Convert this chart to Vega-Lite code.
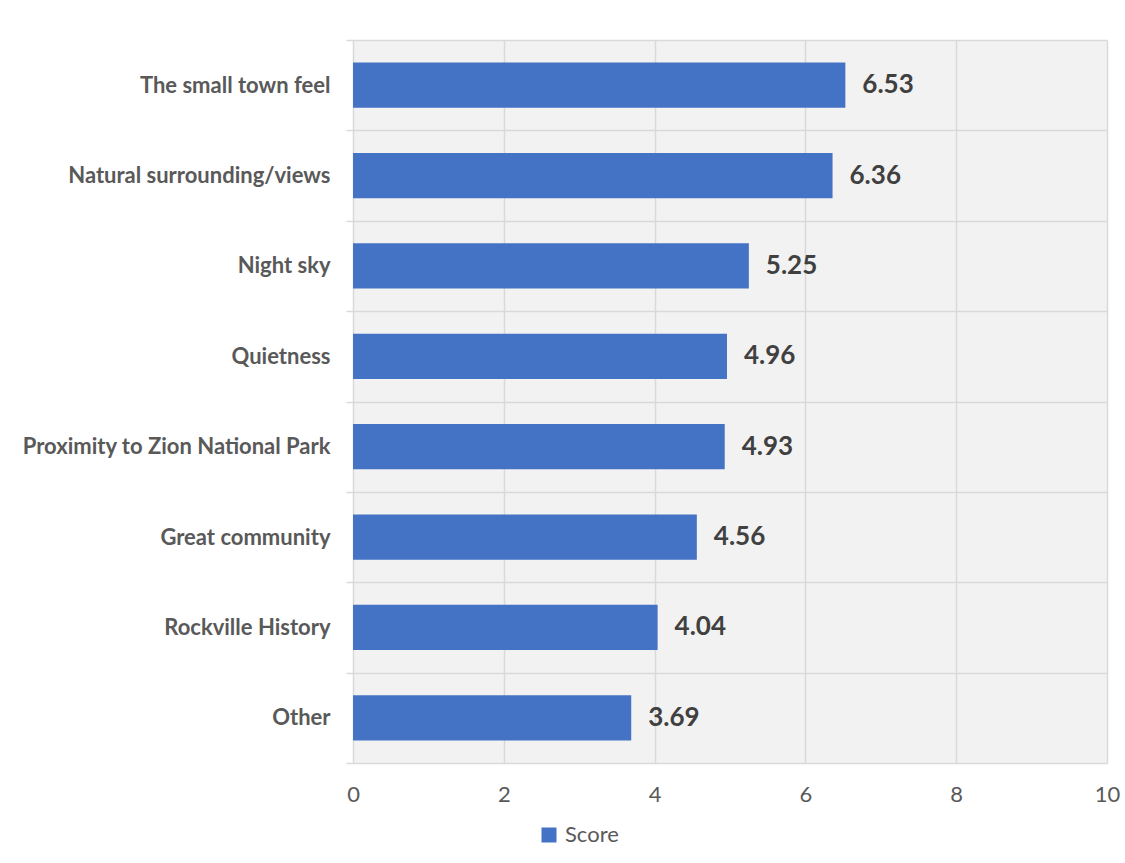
{
  "$schema": "https://vega.github.io/schema/vega-lite/v6.json",
  "width": 754,
  "height": 723,
  "autosize": {"type": "none"},
  "padding": {"left": 353, "top": 40, "right": 18, "bottom": 100},
  "background": "white",
  "config": {
    "font": "Lato",
    "view": {"stroke": null, "fill": "#f2f2f2"}
  },
  "data": {
    "values": [
      {"factor": "The small town feel", "score": 6.53},
      {"factor": "Natural surrounding/views", "score": 6.36},
      {"factor": "Night sky", "score": 5.25},
      {"factor": "Quietness", "score": 4.96},
      {"factor": "Proximity to Zion National Park", "score": 4.93},
      {"factor": "Great community", "score": 4.56},
      {"factor": "Rockville History", "score": 4.04},
      {"factor": "Other", "score": 3.69}
    ]
  },
  "encoding": {
    "y": {
      "field": "factor",
      "type": "nominal",
      "sort": null,
      "title": null,
      "scale": {"paddingInner": 0, "paddingOuter": 0},
      "axis": {
        "tickBand": "extent",
        "tickSize": 7,
        "tickColor": "#d9d9d9",
        "tickWidth": 1.5,
        "grid": true,
        "gridColor": "#d9d9d9",
        "gridWidth": 1.5,
        "domain": false,
        "labelFont": "Lato",
        "labelFontWeight": "bold",
        "labelFontSize": 22,
        "labelColor": "#595959",
        "labelPadding": 16,
        "labelLimit": 400
      }
    },
    "x": {
      "field": "score",
      "type": "quantitative",
      "title": null,
      "scale": {"domain": [0, 10], "nice": false},
      "axis": {
        "values": [0, 2, 4, 6, 8, 10],
        "grid": true,
        "gridColor": "#d9d9d9",
        "gridWidth": 1.5,
        "ticks": false,
        "domain": false,
        "labelFont": "Lato",
        "labelFontSize": 22,
        "labelColor": "#595959",
        "labelPadding": 21,
        "labelFlush": false
      }
    }
  },
  "layer": [
    {
      "mark": {"type": "bar", "color": "#4472C4", "height": {"band": 0.5}},
      "encoding": {
        "color": {
          "datum": "Score",
          "scale": {"range": ["#4472C4"]},
          "legend": {
            "title": null,
            "orient": "none",
            "legendX": 185,
            "legendY": 784,
            "symbolType": "square",
            "symbolSize": 225,
            "symbolStrokeWidth": 0,
            "labelFont": "Lato",
            "labelFontSize": 22,
            "labelColor": "#595959",
            "labelOffset": 5
          }
        }
      }
    },
    {
      "mark": {
        "type": "text",
        "align": "left",
        "baseline": "middle",
        "dx": 17,
        "font": "Lato",
        "fontSize": 26,
        "fontWeight": "bold",
        "color": "#404040"
      },
      "encoding": {
        "text": {"field": "score", "type": "quantitative", "format": ".2f"}
      }
    }
  ]
}
